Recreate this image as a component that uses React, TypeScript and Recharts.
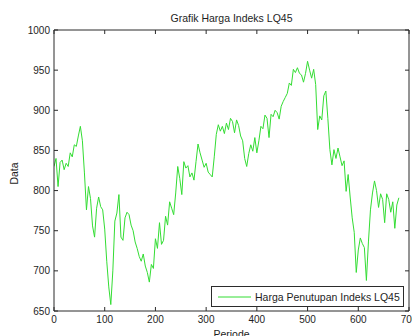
import React from 'react';
import { LineChart, Line, XAxis, YAxis, Legend, Label } from 'recharts';

const harga: number[] = [
  830, 840, 805, 835, 838, 826, 834, 830, 847, 842,
  857, 855, 868, 880, 862, 822, 776, 805, 790, 756,
  742, 778, 792, 780, 776, 752, 712, 680, 658, 700,
  762, 772, 795, 742, 738, 766, 773, 770, 757, 750,
  736, 728, 718, 712, 721, 706, 698, 686, 708, 703,
  740, 728, 760, 733, 738, 768, 757, 786, 778, 770,
  797, 830, 815, 795, 836, 828, 831, 817, 822, 813,
  836, 858, 847, 838, 829, 834, 823, 820, 817, 842,
  870, 882, 874, 880, 871, 884, 876, 890, 886, 872,
  888, 881, 868, 862, 840, 830, 846, 857, 849, 866,
  847, 862, 880, 877, 894, 890, 866, 895, 892, 900,
  897, 889, 905, 911, 916, 921, 934, 931, 951, 947,
  953, 946, 944, 935, 946, 961, 950, 940, 951, 932,
  876, 893, 888, 918, 924, 890, 851, 832, 851, 840,
  853, 842, 831, 837, 799, 820, 792, 766, 748, 698,
  726, 741, 734, 729, 688, 736, 776, 797, 812, 800,
  779, 796, 789, 760, 796, 789, 773, 786, 753, 782,
  791,
];
const periodeStep = 4;
const periode: number[] = harga.map((_, i) => i * periodeStep);

const xTicks: number[] = [0, 100, 200, 300, 400, 500, 600, 700];
const yTicks: number[] = [650, 700, 750, 800, 850, 900, 950, 1000];

const title = 'Grafik Harga Indeks LQ45';
const xLabel = 'Periode';
const yLabel = 'Data';
const seriesName = 'Harga Penutupan Indeks LQ45';

const data = periode.map((p, i) => ({ periode: p, harga: harga[i] }));

const FONT = '"Liberation Sans", Arial, Helvetica, sans-serif';
const AX = '#2b2b2b';
const TXT = '#1e1e1e';
const GREEN = '#33dd33';
const TL = 4;

const BottomTick = (props: any) => {
  const { x, y, payload } = props;
  return (
    <g>
      <line x1={x} x2={x} y1={y} y2={y - TL} stroke={AX} strokeWidth={1} />
      <text x={x} y={y + 12} textAnchor="middle" fontSize={10} fill={TXT} fontFamily={FONT}>
        {payload.value}
      </text>
    </g>
  );
};

const TopTick = (props: any) => {
  const { x, y } = props;
  return <line x1={x} x2={x} y1={y} y2={y + TL} stroke={AX} strokeWidth={1} />;
};

const LeftTick = (props: any) => {
  const { x, y, payload } = props;
  return (
    <g>
      <line x1={x} x2={x + TL} y1={y} y2={y} stroke={AX} strokeWidth={1} />
      <text x={x - 4} y={y + 3.5} textAnchor="end" fontSize={10} fill={TXT} fontFamily={FONT}>
        {payload.value}
      </text>
    </g>
  );
};

const RightTick = (props: any) => {
  const { x, y } = props;
  return <line x1={x} x2={x - TL} y1={y} y2={y} stroke={AX} strokeWidth={1} />;
};

const LegendBox = () => (
  <div
    style={{
      boxSizing: 'border-box',
      width: 193,
      height: 21,
      border: `1px solid ${AX}`,
      background: '#fff',
      display: 'flex',
      alignItems: 'center',
      fontFamily: FONT,
      fontSize: 10.5,
      color: TXT,
      whiteSpace: 'nowrap',
    }}
  >
    <svg width={40} height={10} style={{ marginLeft: 6 }}>
      <line x1={0} x2={33} y1={5} y2={5} stroke={GREEN} strokeWidth={1} />
    </svg>
    <span style={{ marginLeft: -3 }}>{seriesName}</span>
  </div>
);

export default function App() {
  return (
    <div style={{ position: 'absolute', left: 0, top: 0, width: 412, height: 336, background: '#fff' }}>
      <LineChart width={412} height={336} data={data} margin={{ top: 29, right: 2, bottom: 0, left: 0 }}>
        <XAxis
          dataKey="periode"
          type="number"
          domain={[0, 700]}
          ticks={xTicks}
          interval={0}
          allowDataOverflow
          height={25}
          tickSize={0}
          tickMargin={0}
          tickLine={false}
          axisLine={{ stroke: AX }}
          tick={<BottomTick />}
        >
          <Label
            value={xLabel}
            position="insideBottom"
            offset={-2}
            fontSize={10.5}
            fill={TXT}
            fontFamily={FONT}
          />
        </XAxis>
        <XAxis
          xAxisId="top"
          orientation="top"
          dataKey="periode"
          type="number"
          domain={[0, 700]}
          ticks={xTicks}
          interval={0}
          allowDataOverflow
          height={1}
          tickSize={0}
          tickMargin={0}
          tickLine={false}
          axisLine={{ stroke: AX }}
          tick={<TopTick />}
        >
          <Label value={title} position="top" offset={7} fontSize={10.5} fill={TXT} fontFamily={FONT} />
        </XAxis>
        <YAxis
          type="number"
          domain={[650, 1000]}
          ticks={yTicks}
          interval={0}
          allowDataOverflow
          width={54}
          tickSize={0}
          tickMargin={0}
          tickLine={false}
          axisLine={{ stroke: AX }}
          tick={<LeftTick />}
        >
          <Label
            content={(p: any) => {
              const vb = p.viewBox || {};
              const cy = (vb.y ?? 30) + (vb.height ?? 281) / 2 + 3;
              return (
                <text
                  x={18}
                  y={cy}
                  transform={`rotate(-90 18 ${cy})`}
                  textAnchor="middle"
                  fontSize={10.5}
                  fill={TXT}
                  fontFamily={FONT}
                >
                  {yLabel}
                </text>
              );
            }}
          />
        </YAxis>
        <YAxis
          yAxisId="right"
          orientation="right"
          type="number"
          domain={[650, 1000]}
          ticks={yTicks}
          interval={0}
          allowDataOverflow
          width={1}
          tickSize={0}
          tickMargin={0}
          tickLine={false}
          axisLine={{ stroke: AX }}
          tick={<RightTick />}
        />
        {/* invisible copy bound to the top/right frame axes so they render */}
        <Line
          xAxisId="top"
          yAxisId="right"
          type="linear"
          dataKey="harga"
          stroke="none"
          strokeOpacity={0}
          legendType="none"
          dot={false}
          activeDot={false}
          isAnimationActive={false}
        />
        <Line
          type="linear"
          dataKey="harga"
          name={seriesName}
          stroke={GREEN}
          strokeWidth={1}
          dot={false}
          activeDot={false}
          isAnimationActive={false}
        />
        <Legend
          layout="vertical"
          align="center"
          verticalAlign="middle"
          content={<LegendBox />}
          wrapperStyle={{ position: 'absolute', left: 211, top: 286, width: 193, height: 21 }}
        />
      </LineChart>
    </div>
  );
}
